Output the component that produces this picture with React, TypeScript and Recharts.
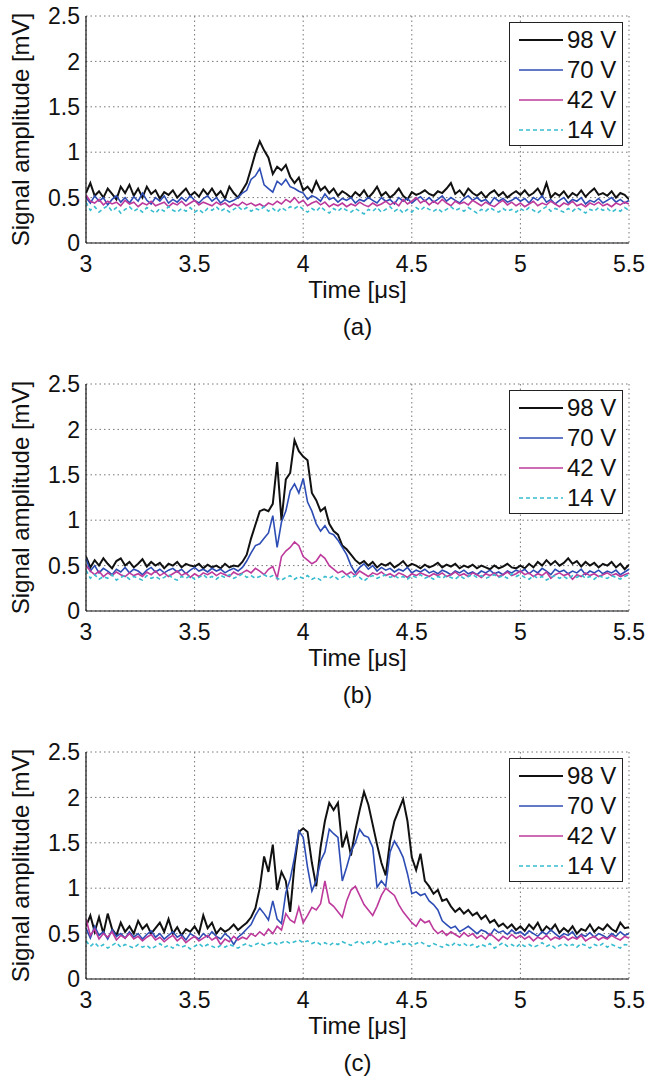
import { CartesianGrid, Label, Legend, Line, LineChart, XAxis, YAxis } from "recharts";

const FONT = '"Liberation Sans", Arial, Helvetica, sans-serif';

// sample clock: 3.00 .. 5.50 µs every 0.02 µs
const TIME = Array.from({ length: 126 }, (_, i) => Math.round((3 + i * 0.02) * 100) / 100);
const X_TICKS = [3, 3.5, 4, 4.5, 5, 5.5];
const Y_TICKS = [0, 0.5, 1, 1.5, 2, 2.5];

// ---- panel (a)
const A_98 = [
  0.55, 0.66, 0.52, 0.57, 0.5, 0.6, 0.54, 0.48, 0.62, 0.55,
  0.64, 0.52, 0.6, 0.5, 0.62, 0.54, 0.58, 0.49, 0.56, 0.53,
  0.58, 0.5, 0.55, 0.6, 0.52, 0.56, 0.51, 0.59, 0.53, 0.6,
  0.52, 0.57, 0.49, 0.62, 0.55, 0.5, 0.58, 0.66, 0.82, 0.99,
  1.12, 1.02, 0.94, 0.76, 0.84, 0.8, 0.86, 0.73, 0.66, 0.72,
  0.58, 0.62, 0.56, 0.68, 0.58, 0.62, 0.55, 0.6, 0.52, 0.57,
  0.54, 0.5, 0.56, 0.52, 0.58, 0.5, 0.55, 0.62, 0.52, 0.56,
  0.5, 0.54, 0.6, 0.52, 0.48, 0.56, 0.53, 0.55, 0.58, 0.54,
  0.52, 0.57, 0.55, 0.6, 0.66, 0.54, 0.58, 0.52, 0.6, 0.55,
  0.52, 0.56, 0.5, 0.55, 0.58, 0.52, 0.56, 0.5, 0.54, 0.57,
  0.53, 0.58, 0.52, 0.55, 0.6, 0.52, 0.66, 0.5, 0.55, 0.52,
  0.57, 0.5, 0.55, 0.52, 0.58, 0.51, 0.56, 0.6, 0.53, 0.55,
  0.52, 0.57, 0.5, 0.55, 0.53, 0.48,
];
const A_70 = [
  0.5, 0.44, 0.52, 0.46, 0.5, 0.42, 0.48, 0.52, 0.45, 0.5,
  0.44, 0.51, 0.46, 0.55, 0.47, 0.43, 0.5, 0.46, 0.52, 0.44,
  0.48, 0.45, 0.5, 0.46, 0.52, 0.47, 0.44, 0.49, 0.52, 0.46,
  0.5, 0.44, 0.48, 0.45, 0.47, 0.5, 0.55, 0.58, 0.7, 0.74,
  0.82, 0.64, 0.6, 0.56, 0.68, 0.64, 0.7, 0.62, 0.6, 0.57,
  0.55, 0.48, 0.52, 0.5, 0.46, 0.54, 0.48, 0.5, 0.45, 0.49,
  0.47, 0.5, 0.44, 0.48, 0.46, 0.5, 0.47, 0.44, 0.5, 0.46,
  0.48, 0.43, 0.5, 0.46, 0.49, 0.44, 0.48, 0.51, 0.46, 0.5,
  0.45, 0.48, 0.52, 0.46, 0.5, 0.47, 0.44, 0.49, 0.52, 0.47,
  0.5, 0.46, 0.48, 0.43, 0.5, 0.46, 0.49, 0.45, 0.47, 0.5,
  0.46, 0.49, 0.44, 0.5, 0.47, 0.52, 0.45, 0.48, 0.43, 0.47,
  0.5, 0.44, 0.48, 0.46, 0.5, 0.43, 0.47, 0.45, 0.49, 0.44,
  0.47, 0.5, 0.45, 0.48, 0.44, 0.47,
];
const A_42 = [
  0.53, 0.46, 0.44, 0.48, 0.42, 0.46, 0.43, 0.45, 0.41, 0.47,
  0.43, 0.45, 0.4, 0.44, 0.42, 0.46, 0.41, 0.43, 0.45, 0.4,
  0.44, 0.42, 0.46, 0.41, 0.44, 0.47, 0.42, 0.45, 0.43, 0.41,
  0.45, 0.42, 0.44, 0.4, 0.43, 0.41, 0.45, 0.42, 0.44, 0.41,
  0.43, 0.4, 0.44, 0.42, 0.46, 0.43, 0.48, 0.45, 0.5, 0.44,
  0.47, 0.41, 0.44, 0.46, 0.42, 0.45, 0.4, 0.43, 0.41, 0.44,
  0.4, 0.43, 0.41, 0.45, 0.42, 0.4, 0.44, 0.41, 0.43, 0.46,
  0.42, 0.45, 0.41, 0.48, 0.43, 0.46, 0.5, 0.44, 0.47, 0.42,
  0.46, 0.43, 0.48, 0.44, 0.41, 0.46, 0.43, 0.45, 0.42, 0.47,
  0.44, 0.41, 0.45, 0.42, 0.4, 0.44, 0.47, 0.42, 0.45, 0.41,
  0.44, 0.4, 0.43, 0.46, 0.41, 0.44, 0.42, 0.46, 0.43, 0.4,
  0.44, 0.42, 0.46, 0.41, 0.43, 0.4, 0.44, 0.42, 0.45, 0.41,
  0.43, 0.4, 0.44, 0.42, 0.45, 0.43,
];
const A_14 = [
  0.45, 0.36, 0.4, 0.34, 0.38, 0.41, 0.35, 0.39, 0.33, 0.37,
  0.4, 0.35, 0.38, 0.34, 0.39, 0.36, 0.33, 0.38, 0.35, 0.4,
  0.36, 0.34, 0.38, 0.35, 0.39, 0.34, 0.37, 0.33, 0.38, 0.36,
  0.4, 0.35, 0.38, 0.34, 0.37, 0.4, 0.36, 0.39, 0.35, 0.38,
  0.36, 0.4, 0.35, 0.38, 0.34, 0.39, 0.36, 0.4, 0.38, 0.41,
  0.37, 0.34, 0.38, 0.35, 0.4, 0.36, 0.33, 0.38, 0.35, 0.39,
  0.36, 0.34, 0.38, 0.35, 0.32, 0.37, 0.35, 0.39, 0.34, 0.37,
  0.4, 0.35, 0.38, 0.33, 0.37, 0.34, 0.39, 0.36, 0.4, 0.37,
  0.35, 0.38, 0.34, 0.37, 0.4, 0.36, 0.38, 0.35, 0.39, 0.36,
  0.33, 0.37, 0.35, 0.39, 0.36, 0.34, 0.38, 0.35, 0.37, 0.34,
  0.38, 0.35, 0.39, 0.36, 0.33, 0.37, 0.4, 0.35, 0.38, 0.36,
  0.34, 0.38, 0.35, 0.39, 0.36, 0.33, 0.37, 0.35, 0.39, 0.36,
  0.38, 0.34, 0.37, 0.35, 0.39, 0.36,
];

// ---- panel (b)
const B_98 = [
  0.6, 0.48, 0.56, 0.5, 0.58, 0.52, 0.47, 0.55, 0.58, 0.5,
  0.54, 0.48, 0.52, 0.57, 0.49, 0.54, 0.5, 0.53, 0.47, 0.52,
  0.5, 0.54, 0.48, 0.52, 0.5, 0.49, 0.52, 0.47, 0.51, 0.48,
  0.5, 0.47, 0.52, 0.48, 0.5, 0.49, 0.54, 0.62, 0.8, 0.95,
  1.1, 1.12, 1.1, 1.18, 1.64, 1.0, 1.45, 1.52, 1.88, 1.76,
  1.7, 1.66, 1.3, 1.22, 1.1, 1.14, 0.96, 0.88, 0.84, 0.72,
  0.68, 0.62, 0.56, 0.52, 0.55, 0.5, 0.54, 0.48, 0.52, 0.5,
  0.53, 0.48, 0.51, 0.55, 0.49, 0.52, 0.5, 0.47, 0.51, 0.48,
  0.5, 0.53, 0.48, 0.51, 0.49, 0.52, 0.47, 0.5, 0.48, 0.51,
  0.47, 0.5, 0.48, 0.46, 0.5, 0.47, 0.49, 0.52, 0.48, 0.47,
  0.5, 0.47, 0.52, 0.48, 0.54, 0.5, 0.56, 0.51, 0.55, 0.5,
  0.53, 0.58, 0.52, 0.55, 0.49, 0.54, 0.5, 0.53, 0.48, 0.52,
  0.5, 0.54, 0.48, 0.52, 0.46, 0.51,
];
const B_70 = [
  0.58, 0.44, 0.5, 0.42, 0.47, 0.44, 0.4, 0.46, 0.43, 0.48,
  0.42, 0.46, 0.44, 0.4, 0.45, 0.48, 0.43, 0.46, 0.42, 0.45,
  0.47, 0.43, 0.46, 0.41, 0.45, 0.48, 0.44, 0.46, 0.43, 0.47,
  0.44, 0.46, 0.42, 0.45, 0.47, 0.44, 0.48, 0.55, 0.64, 0.72,
  0.74, 0.8, 0.86, 1.05, 0.7, 0.98, 1.1, 1.32, 1.4, 1.3,
  1.46, 1.2, 1.1, 0.96, 0.88, 0.94, 0.86, 0.84, 0.78, 0.7,
  0.62, 0.5, 0.42, 0.48, 0.52, 0.46, 0.5, 0.44, 0.48, 0.45,
  0.47, 0.43, 0.46, 0.44, 0.48, 0.42, 0.45, 0.43, 0.46, 0.42,
  0.44, 0.41, 0.45, 0.43, 0.4, 0.44, 0.42, 0.45, 0.41, 0.43,
  0.4, 0.44, 0.42, 0.45, 0.41, 0.43, 0.4, 0.44, 0.42, 0.45,
  0.43, 0.46, 0.41, 0.45, 0.42, 0.47, 0.44, 0.4, 0.46, 0.43,
  0.45, 0.41, 0.44, 0.42, 0.46, 0.4, 0.44, 0.42, 0.45, 0.41,
  0.44, 0.42, 0.45, 0.4, 0.43, 0.46,
];
const B_42 = [
  0.5, 0.44, 0.4, 0.44, 0.38, 0.42, 0.39, 0.43, 0.4, 0.38,
  0.42, 0.39, 0.41, 0.38, 0.43, 0.4, 0.44, 0.39, 0.42, 0.38,
  0.41, 0.44, 0.39, 0.42, 0.37, 0.41, 0.38, 0.42, 0.4, 0.43,
  0.39, 0.42, 0.4, 0.38, 0.43, 0.4, 0.42, 0.45, 0.42, 0.47,
  0.44, 0.4, 0.46, 0.49, 0.36, 0.6, 0.66, 0.7, 0.76, 0.72,
  0.6, 0.56, 0.52, 0.55, 0.62, 0.58, 0.5, 0.46, 0.42, 0.44,
  0.4, 0.43, 0.39, 0.44, 0.41, 0.38, 0.42, 0.4, 0.43, 0.39,
  0.41, 0.38, 0.42, 0.4, 0.37, 0.41, 0.39, 0.42, 0.4, 0.38,
  0.41, 0.39, 0.42, 0.38, 0.4, 0.43, 0.39, 0.41, 0.38, 0.42,
  0.4, 0.37, 0.41, 0.39, 0.42, 0.38, 0.4, 0.43, 0.39, 0.41,
  0.44, 0.4, 0.42, 0.38, 0.41, 0.39, 0.43, 0.36, 0.4, 0.42,
  0.39, 0.41, 0.35, 0.4, 0.38, 0.42, 0.39, 0.41, 0.38, 0.4,
  0.42, 0.39, 0.41, 0.38, 0.4, 0.42,
];
const B_14 = [
  0.45, 0.36, 0.4, 0.35, 0.38, 0.36, 0.4, 0.34, 0.37, 0.39,
  0.35, 0.38, 0.36, 0.34, 0.39, 0.36, 0.38, 0.35, 0.37, 0.4,
  0.36, 0.34, 0.38, 0.36, 0.39, 0.35, 0.37, 0.4, 0.36, 0.38,
  0.35, 0.39, 0.37, 0.4, 0.36, 0.38, 0.41, 0.37, 0.39, 0.36,
  0.38, 0.4, 0.37, 0.39, 0.36, 0.34, 0.37, 0.39, 0.35, 0.38,
  0.36, 0.39, 0.35, 0.37, 0.34, 0.38, 0.36, 0.39, 0.35, 0.37,
  0.4, 0.36, 0.39, 0.37, 0.33, 0.37, 0.39, 0.36, 0.38, 0.4,
  0.37, 0.39, 0.36, 0.38, 0.35, 0.39, 0.37, 0.4, 0.36, 0.38,
  0.35, 0.38, 0.36, 0.39, 0.37, 0.35, 0.39, 0.36, 0.38, 0.4,
  0.37, 0.39, 0.36, 0.38, 0.4, 0.37, 0.39, 0.36, 0.41, 0.38,
  0.4, 0.37, 0.35, 0.39, 0.36, 0.38, 0.34, 0.37, 0.39, 0.36,
  0.38, 0.35, 0.39, 0.37, 0.4, 0.36, 0.38, 0.35, 0.39, 0.37,
  0.36, 0.39, 0.37, 0.35, 0.38, 0.4,
];

// ---- panel (c)
const C_98 = [
  0.58, 0.7, 0.52, 0.68, 0.5, 0.72, 0.55, 0.48, 0.62, 0.52,
  0.58, 0.5, 0.64, 0.55, 0.6, 0.5, 0.56, 0.62, 0.52, 0.66,
  0.5, 0.57, 0.48, 0.55, 0.52, 0.58, 0.5, 0.7, 0.56, 0.62,
  0.5, 0.56, 0.52, 0.55, 0.6, 0.54, 0.58, 0.62, 0.68, 0.78,
  1.0, 1.35, 1.18, 1.48, 0.98, 1.18, 1.08, 0.74, 1.26, 1.62,
  1.66, 1.62, 1.28, 1.02, 1.45, 1.74, 1.94, 1.86, 1.94, 1.45,
  1.6, 1.36, 1.64, 1.86, 2.06, 1.92, 1.7, 1.48, 1.28, 1.14,
  1.52, 1.74, 1.86, 1.98, 1.74, 1.34, 1.2, 1.38, 1.08, 1.02,
  0.94, 0.98, 0.86, 0.88, 0.8, 0.74, 0.78, 0.72, 0.76, 0.7,
  0.73, 0.66, 0.7, 0.62, 0.65, 0.58, 0.61, 0.56, 0.6, 0.54,
  0.58, 0.53, 0.6, 0.55, 0.62, 0.52, 0.58, 0.54, 0.6, 0.51,
  0.56, 0.52, 0.58, 0.5, 0.55, 0.53, 0.6, 0.52, 0.57, 0.54,
  0.6, 0.55, 0.52, 0.62, 0.56, 0.57,
];
const C_70 = [
  0.56, 0.45, 0.58, 0.48, 0.52, 0.44, 0.54, 0.47, 0.5, 0.45,
  0.52, 0.46, 0.5, 0.44, 0.49, 0.53, 0.46, 0.5, 0.44, 0.48,
  0.52, 0.46, 0.49, 0.43, 0.5, 0.47, 0.44, 0.5, 0.46, 0.52,
  0.47, 0.44, 0.5, 0.46, 0.38, 0.46, 0.5, 0.55, 0.6, 0.7,
  0.78, 0.72, 0.65, 0.86, 0.66, 0.61, 0.95, 1.1, 1.34, 1.63,
  1.56, 1.23, 0.97, 1.08, 1.3, 1.4, 1.65, 1.6, 1.56, 1.08,
  1.23, 1.4, 1.5, 1.65, 1.58, 1.56, 1.45, 1.01, 1.08, 1.02,
  1.4, 1.52, 1.44, 1.34, 1.16, 0.94, 0.96, 0.92, 0.94, 0.86,
  0.82, 0.76, 0.64, 0.6, 0.56, 0.58, 0.52, 0.55, 0.58, 0.54,
  0.5, 0.54, 0.52, 0.48, 0.55, 0.51, 0.53, 0.49, 0.54, 0.5,
  0.52, 0.48, 0.53, 0.5, 0.47, 0.52, 0.49, 0.54, 0.5, 0.46,
  0.5, 0.48, 0.52, 0.45, 0.49, 0.47, 0.51, 0.46, 0.5, 0.48,
  0.45, 0.5, 0.47, 0.52, 0.48, 0.5,
];
const C_42 = [
  0.66, 0.48, 0.55, 0.44, 0.5, 0.46, 0.52, 0.43, 0.48, 0.45,
  0.5, 0.44, 0.47, 0.42, 0.46, 0.49, 0.43, 0.46, 0.41, 0.45,
  0.48, 0.42, 0.46, 0.4, 0.44, 0.47, 0.42, 0.45, 0.48, 0.43,
  0.46, 0.38, 0.44, 0.41, 0.47, 0.43, 0.46, 0.44, 0.5, 0.47,
  0.52, 0.48, 0.55, 0.5, 0.58, 0.54, 0.72, 0.65, 0.62, 0.79,
  0.62, 0.7, 0.79, 0.76, 0.83, 1.08, 0.84, 0.8, 0.74, 0.68,
  0.86, 0.98, 1.02, 0.92, 0.82, 0.76, 0.7, 0.8, 0.92, 1.0,
  0.96, 0.92, 0.82, 0.74, 0.68, 0.62, 0.58, 0.66, 0.62, 0.64,
  0.55, 0.5, 0.53, 0.48, 0.52, 0.49, 0.46, 0.51, 0.47, 0.5,
  0.45, 0.48, 0.44, 0.5, 0.46, 0.42, 0.47, 0.44, 0.49, 0.45,
  0.48, 0.44, 0.47, 0.42, 0.46, 0.44, 0.48, 0.43, 0.46, 0.44,
  0.47, 0.43, 0.46, 0.44, 0.48, 0.42, 0.45, 0.47, 0.43, 0.46,
  0.44, 0.48, 0.45, 0.43, 0.47, 0.45,
];
const C_14 = [
  0.42, 0.36, 0.4, 0.35, 0.38, 0.34, 0.37, 0.4, 0.35, 0.38,
  0.36, 0.34, 0.38, 0.35, 0.37, 0.33, 0.36, 0.39, 0.35, 0.37,
  0.34, 0.38, 0.35, 0.37, 0.33, 0.36, 0.39, 0.35, 0.38, 0.36,
  0.34, 0.37, 0.35, 0.38, 0.36, 0.34, 0.37, 0.39, 0.36, 0.38,
  0.4, 0.37, 0.39, 0.41, 0.38, 0.4, 0.42, 0.39, 0.41, 0.43,
  0.4, 0.42, 0.39, 0.41, 0.38, 0.4, 0.37, 0.4, 0.38, 0.41,
  0.39, 0.37, 0.4, 0.42, 0.38, 0.41, 0.39, 0.43, 0.4, 0.38,
  0.41, 0.39, 0.42, 0.38, 0.4, 0.37, 0.39, 0.41, 0.38, 0.36,
  0.39, 0.37, 0.35, 0.38, 0.36, 0.4, 0.37, 0.39, 0.36, 0.38,
  0.35, 0.38, 0.36, 0.39, 0.34, 0.37, 0.4, 0.36, 0.38, 0.35,
  0.39, 0.36, 0.38, 0.35, 0.37, 0.4, 0.36, 0.38, 0.34, 0.37,
  0.39, 0.36, 0.38, 0.35, 0.39, 0.37, 0.34, 0.38, 0.36, 0.39,
  0.35, 0.38, 0.36, 0.34, 0.38, 0.37,
];

const SERIES = [
  { key: "v98", name: "98 V", color: "#111111", width: 2, dash: undefined },
  { key: "v70", name: "70 V", color: "#2d4db5", width: 1.6, dash: undefined },
  { key: "v42", name: "42 V", color: "#bd3a9c", width: 1.6, dash: undefined },
  { key: "v14", name: "14 V", color: "#38bccf", width: 1.6, dash: "4 3" },
];

const PANEL_H = 368;
const PLOT_TOP = 16;
const PLOT_H = 227;
const X_AXIS_H = 100;

function LegendBox() {
  return (
    <div
      style={{
        width: 114,
        height: 124,
        border: "1.5px solid #222",
        background: "#fff",
        fontFamily: FONT,
        fontSize: 24,
        color: "#111",
        boxSizing: "border-box",
        paddingTop: 2,
      }}
    >
      {SERIES.map((s) => (
        <div key={s.key} style={{ display: "flex", alignItems: "center", height: 30 }}>
          <svg width={57} height={30} style={{ flex: "none" }}>
            <line x1={9} x2={53} y1={15} y2={15} stroke={s.color} strokeWidth={s.width} strokeDasharray={s.dash} />
          </svg>
          <span style={{ lineHeight: "30px", whiteSpace: "nowrap" }}>{s.name}</span>
        </div>
      ))}
    </div>
  );
}

function Panel({ caption, s98, s70, s42, s14 }: { caption: string; s98: number[]; s70: number[]; s42: number[]; s14: number[] }) {
  const data = TIME.map((t, i) => ({ t, v98: s98[i], v70: s70[i], v42: s42[i], v14: s14[i] }));
  const tick = { fontSize: 23, fill: "#111", fontFamily: FONT };
  return (
    <LineChart
      width={652}
      height={PANEL_H}
      data={data}
      margin={{ top: PLOT_TOP, right: 23, left: 0, bottom: PANEL_H - PLOT_TOP - PLOT_H - X_AXIS_H }}
    >
      <CartesianGrid stroke="#777" strokeDasharray="1.5 3" />
      <XAxis
        dataKey="t"
        type="number"
        domain={[3, 5.5]}
        ticks={X_TICKS}
        allowDataOverflow
        height={X_AXIS_H}
        tick={tick}
        tickLine={false}
        tickSize={6}
        tickMargin={7}
        axisLine={{ stroke: "#111", strokeWidth: 1.2 }}
      >
        <Label
          content={(p: any) => {
            const vb = p.viewBox;
            return (
              <text x={vb.x + vb.width / 2} y={vb.y + 46} textAnchor="middle" dominantBaseline="central" fontSize={24} fontFamily={FONT} fill="#111">
                Time [μs]
              </text>
            );
          }}
        />
        <Label
          content={(p: any) => {
            const vb = p.viewBox;
            return (
              <text x={vb.x + vb.width / 2} y={vb.y + 83} textAnchor="middle" dominantBaseline="central" fontSize={24} fontFamily={FONT} fill="#111">
                {caption}
              </text>
            );
          }}
        />
      </XAxis>
      <YAxis
        type="number"
        domain={[0, 2.5]}
        ticks={Y_TICKS}
        width={86}
        tick={tick}
        tickLine={false}
        tickSize={6}
        tickMargin={0}
        axisLine={{ stroke: "#111", strokeWidth: 1.2 }}
      >
        <Label
          content={(p: any) => {
            const vb = p.viewBox;
            const cy = vb.y + vb.height / 2;
            return (
              <text x={20} y={cy} transform={`rotate(-90 20 ${cy})`} textAnchor="middle" dominantBaseline="central" fontSize={24} fontFamily={FONT} fill="#111">
                Signal amplitude [mV]
              </text>
            );
          }}
        />
      </YAxis>
      <Legend
        layout="vertical"
        align="center"
        verticalAlign="middle"
        content={() => <LegendBox />}
        wrapperStyle={{ position: "absolute", left: 509, top: PLOT_TOP + 6, width: 114, height: 124 }}
      />
      {SERIES.map((s) => (
        <Line
          key={s.key}
          dataKey={s.key}
          name={s.name}
          type="linear"
          stroke={s.color}
          strokeWidth={s.width}
          strokeDasharray={s.dash}
          dot={false}
          activeDot={false}
          isAnimationActive={false}
        />
      ))}
    </LineChart>
  );
}

export default function App() {
  return (
    <div style={{ position: "absolute", left: 0, top: 0, width: 652, height: 1087, background: "#fff" }}>
      <div style={{ position: "absolute", left: 0, top: 0 }}>
        <Panel caption="(a)" s98={A_98} s70={A_70} s42={A_42} s14={A_14} />
      </div>
      <div style={{ position: "absolute", left: 0, top: 368 }}>
        <Panel caption="(b)" s98={B_98} s70={B_70} s42={B_42} s14={B_14} />
      </div>
      <div style={{ position: "absolute", left: 0, top: 736 }}>
        <Panel caption="(c)" s98={C_98} s70={C_70} s42={C_42} s14={C_14} />
      </div>
    </div>
  );
}
